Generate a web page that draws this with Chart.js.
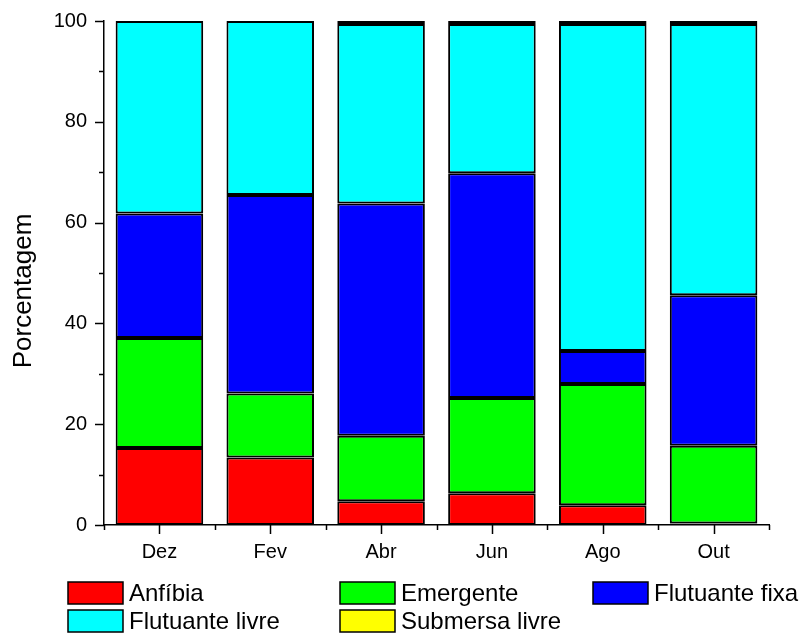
<!DOCTYPE html>
<html>
<head>
<meta charset="utf-8">
<script src="https://cdn.jsdelivr.net/npm/chart.js@4"></script>
<style>
  html, body { margin: 0; padding: 0; background: #fff; }
  #wrap { width: 804px; height: 634px; }
</style>
</head>
<body>
<div id="wrap"><canvas id="c" width="804" height="634"></canvas></div>
<script>
// Composição percentual por forma biológica em cada mês de coleta
const meses = ['Dez', 'Fev', 'Abr', 'Jun', 'Ago', 'Out'];
const anfibia        = [15.3, 13.4, 4.7, 6.3, 3.9, 0.3];
const emergente      = [21.8, 12.7, 13.0, 18.9, 24.1, 15.4];
const flutuanteFixa  = [24.7, 39.4, 46.1, 44.6, 6.5, 29.9];
const flutuanteLivre = [38.2, 34.5, 35.6, 29.6, 64.9, 53.8];
const submersaLivre  = [0, 0, 0.6, 0.6, 0.6, 0.6];
const yTicks = [0, 20, 40, 60, 80, 100];
const yTitulo = 'Porcentagem';

const FONT = "'Liberation Sans', Arial, sans-serif";

function serie(label, data, color) {
  return {
    label, data,
    backgroundColor: color,
    borderColor: '#000',
    borderWidth: 2,
    borderSkipped: false,
    barPercentage: 0.79,
    categoryPercentage: 1.0
  };
}

// Marcas de escala principais e secundárias desenhadas pelas escalas do gráfico
const tickMarks = {
  id: 'tickMarks',
  afterDraw(chart) {
    const { ctx, scales: { x, y } } = chart;
    ctx.save();
    ctx.strokeStyle = '#000';
    ctx.lineWidth = 1.5;
    for (let v = 0; v <= 100; v += 10) {
      const py = Math.round(y.getPixelForValue(v)) + 0.5;
      const len = v % 20 === 0 ? 9 : 5;
      ctx.beginPath();
      ctx.moveTo(x.left - len, py);
      ctx.lineTo(x.left, py);
      ctx.stroke();
    }
    for (let i = 0; i < meses.length; i++) {
      const px = Math.round(x.getPixelForValue(i)) + 0.5;
      ctx.beginPath();
      ctx.moveTo(px, y.bottom);
      ctx.lineTo(px, y.bottom + 9);
      ctx.stroke();
    }
    for (let i = 0; i <= meses.length; i++) {
      const px = Math.round(x.getPixelForValue(i - 0.5)) + 0.5;
      ctx.beginPath();
      ctx.moveTo(px, y.bottom);
      ctx.lineTo(px, y.bottom + 5);
      ctx.stroke();
    }
    // título vertical do eixo y
    ctx.font = '26px ' + FONT;
    ctx.fillStyle = '#000';
    ctx.textAlign = 'center';
    ctx.textBaseline = 'middle';
    ctx.translate(24, 291);
    ctx.rotate(-Math.PI / 2);
    ctx.fillText(yTitulo, 0, 0);
    ctx.restore();
  }
};

// Legenda em grade de três colunas abaixo do eixo
const gridLegend = {
  id: 'gridLegend',
  afterDraw(chart) {
    const { ctx } = chart;
    const cols = [68, 340, 593];
    const rows = [582, 610];
    const boxW = 55, boxH = 22;
    ctx.save();
    ctx.font = '24px ' + FONT;
    ctx.textBaseline = 'middle';
    ctx.fillStyle = '#000';
    chart.data.datasets.forEach((ds, i) => {
      const bx = cols[i % 3], by = rows[Math.floor(i / 3)];
      ctx.fillStyle = ds.backgroundColor;
      ctx.fillRect(bx, by, boxW, boxH);
      ctx.strokeStyle = '#000';
      ctx.lineWidth = 1.5;
      ctx.strokeRect(bx, by, boxW, boxH);
      ctx.fillStyle = '#000';
      ctx.fillText(ds.label, bx + boxW + 6, by + boxH / 2 + 1);
    });
    ctx.restore();
  }
};

new Chart(document.getElementById('c'), {
  type: 'bar',
  data: {
    labels: meses,
    datasets: [
      serie('Anfíbia', anfibia, '#ff0000'),
      serie('Emergente', emergente, '#00ff00'),
      serie('Flutuante fixa', flutuanteFixa, '#0000ff'),
      serie('Flutuante livre', flutuanteLivre, '#00ffff'),
      serie('Submersa livre', submersaLivre, '#ffff00')
    ]
  },
  options: {
    responsive: false,
    animation: false,
    layout: { padding: { top: 21, right: 35, left: 0, bottom: 0 } },
    plugins: {
      legend: { display: false },
      tooltip: { enabled: false }
    },
    scales: {
      x: {
        stacked: true,
        offset: true,
        grid: { display: false, drawTicks: false },
        border: { display: true, color: '#000', width: 1.5 },
        ticks: { color: '#000', padding: 15, font: { family: FONT, size: 20 } },
        afterFit(scale) { scale.height = 109; scale.paddingLeft = 0; scale.paddingRight = 0; }
      },
      y: {
        stacked: true,
        min: 0,
        max: 100,
        grid: { display: false, drawTicks: false },
        border: { display: true, color: '#000', width: 1.5 },
        afterBuildTicks(scale) { scale.ticks = yTicks.map(v => ({ value: v })); },
        ticks: { color: '#000', padding: 17, font: { family: FONT, size: 20 } },
        afterFit(scale) { scale.width = 104; scale.paddingTop = 0; scale.paddingBottom = 0; }
      }
    }
  },
  plugins: [tickMarks, gridLegend]
});
</script>
</body>
</html>
